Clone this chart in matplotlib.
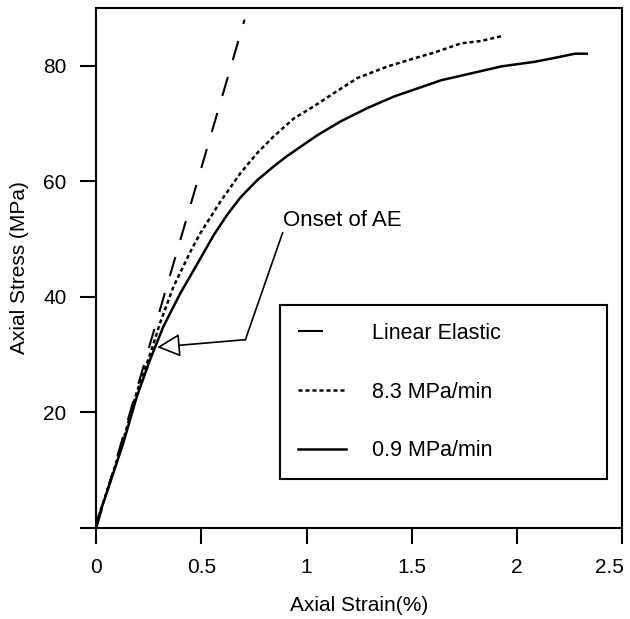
import matplotlib.pyplot as plt
import matplotlib.transforms as mtransforms
from matplotlib.lines import Line2D

plt.rcParams['font.family'] = ['Liberation Sans', 'DejaVu Sans']
plt.rcParams['font.size'] = 15

# linear elastic reference line
elastic_strain = [0, 0.705]
elastic_stress = [0, 88.0]

# 8.3 MPa/min
fast_strain = [0, 0.064, 0.128, 0.192, 0.264, 0.303, 0.367, 0.447, 0.494, 0.590, 0.685, 0.765,
               0.844, 0.940, 1.035, 1.131, 1.243, 1.386, 1.513, 1.608, 1.736, 1.831, 1.935]
fast_stress = [0.8, 7.9, 15.2, 23.5, 31.0, 35.5, 41.8, 47.8, 51.0, 56.5, 61.4, 64.9,
               67.8, 70.9, 73.0, 75.3, 77.9, 79.9, 81.3, 82.3, 83.9, 84.3, 85.2]

# 0.9 MPa/min
slow_strain = [0, 0.064, 0.128, 0.192, 0.255, 0.319, 0.399, 0.494, 0.560, 0.622, 0.685, 0.765,
               0.844, 0.908, 0.972, 1.052, 1.163, 1.290, 1.417, 1.529, 1.640, 1.784, 1.927,
               2.086, 2.198, 2.277, 2.333]
slow_stress = [0.8, 7.7, 14.7, 22.7, 29.1, 34.9, 40.6, 46.6, 50.8, 54.2, 57.2, 60.2,
               62.6, 64.4, 66.0, 68.0, 70.4, 72.7, 74.7, 76.1, 77.5, 78.7, 79.9,
               80.7, 81.5, 82.1, 82.1]

labels = ['Linear Elastic', '8.3 MPa/min', '0.9 MPa/min']
xticks = [0, 0.5, 1, 1.5, 2, 2.5]
xticklabels = ['0', '0.5', '1', '1.5', '2', '2.5']
yticks = [0, 20, 40, 60, 80]
yticklabels = ['', '20', '40', '60', '80']

# annotation anchor points (strain, stress)
ae_text = (0.89, 53.2)
ae_start = (0.886, 51.1)
ae_elbow = (0.709, 32.6)
ae_tip = (0.289, 31.3)

fig = plt.figure(figsize=(6.3, 6.19), dpi=100)
ax = fig.add_axes([0.153, 0.147, 0.834, 0.840])

ax.plot(elastic_strain, elastic_stress, color='black', lw=1.5, dashes=(9.5, 8.5))
ax.plot(fast_strain, fast_stress, color='black', lw=1.8, dashes=(1.6, 1.2))
ax.plot(slow_strain, slow_stress, color='black', lw=1.8)

ax.set_xlim(0, 2.5)
ax.set_ylim(0, 90)
ax.set_xticks(xticks, labels=xticklabels)
ax.set_yticks(yticks, labels=yticklabels)
ax.tick_params(direction='out', length=11.5, width=1.5, pad=10, labelsize=15)
for s in ax.spines.values():
    s.set_linewidth(1.5)

# last x label sits a bit to the left so it stays inside the figure
last = ax.get_xticklabels()[-1]
last.set_transform(last.get_transform() + mtransforms.ScaledTranslation(-9 / 72, 0, fig.dpi_scale_trans))

ax.set_xlabel('Axial Strain(%)', fontsize=15, labelpad=14)
ax.set_ylabel('Axial Stress (MPa)', fontsize=15, labelpad=10)

# Onset of AE callout
ax.text(ae_text[0], ae_text[1], 'Onset of AE', fontsize=16, ha='left', va='center')
ax.plot([ae_start[0], ae_elbow[0]], [ae_start[1], ae_elbow[1]], color='black', lw=1.2)
ax.annotate('', xy=ae_tip, xytext=ae_elbow,
            arrowprops=dict(arrowstyle='-|>,head_length=0.72,head_width=0.36',
                            mutation_scale=20, fc='white', ec='black', lw=1.2,
                            shrinkA=0, shrinkB=0))

handles = [Line2D([], [], color='black', lw=1.5, dashes=(12, 30)),
           Line2D([], [], color='black', lw=1.8, dashes=(1.6, 1.2)),
           Line2D([], [], color='black', lw=1.8)]
leg = ax.legend(handles, labels, loc='center', bbox_to_anchor=(0.329, 0.094, 0.663, 0.335),
                mode='expand', fontsize=15.5, handlelength=2.25, handletextpad=1.2,
                labelspacing=1.76, borderpad=0.83, fancybox=False, framealpha=1,
                edgecolor='black')
leg.get_frame().set_linewidth(1.5)

plt.savefig('out.png', dpi=100)
